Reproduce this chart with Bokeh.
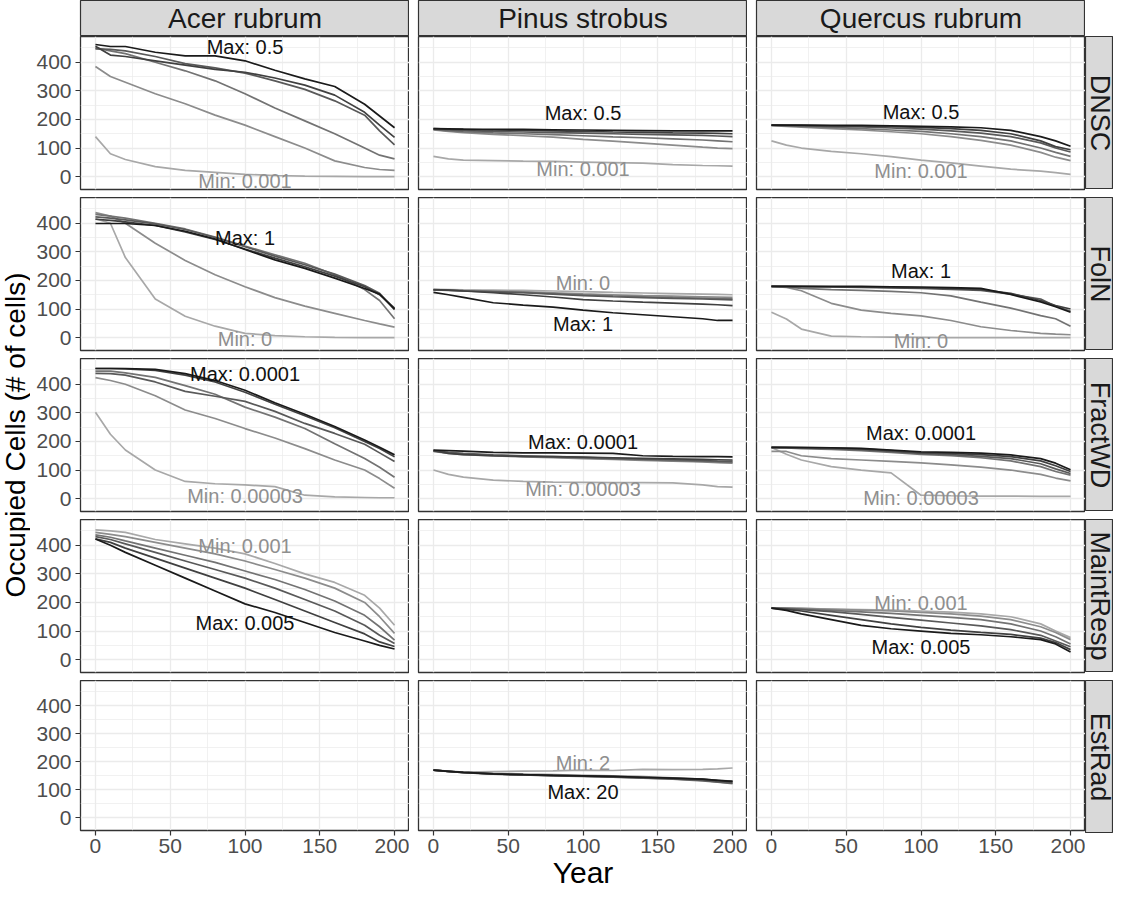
from math import pi
from bokeh.plotting import figure
from bokeh.models import Range1d, FixedTicker, LinearAxis
from bokeh.layouts import row, column
from bokeh.embed import file_html
from bokeh.resources import INLINE
from bokeh.core.properties import value

# ---------------- data ----------------
YEARS = [0, 10, 20, 40, 60, 80, 100, 120, 140, 160, 180, 190, 200]
SPECIES = ["Acer rubrum", "Pinus strobus", "Quercus rubrum"]
PARAMS = ["DNSC", "FolN", "FractWD", "MaintResp", "EstRad"]
X_TICKS = [0, 50, 100, 150, 200]
X_MINOR = [25, 75, 125, 175]
Y_TICKS = [0, 100, 200, 300, 400]
Y_MINOR = [50, 150, 250, 350, 450]
LABEL_YEAR = 100

# each list: series ordered from Max (darkest) to Min (lightest)
ACER_DNSC = [
    [462, 455, 455, 435, 422, 422, 405, 372, 342, 315, 253, 212, 171],
    [456, 425, 420, 405, 390, 375, 365, 345, 320, 285, 225, 180, 137],
    [447, 445, 440, 420, 395, 380, 362, 335, 305, 265, 215, 160, 111],
    [450, 440, 430, 400, 370, 335, 290, 240, 195, 150, 100, 75, 62],
    [385, 350, 330, 290, 255, 215, 180, 140, 100, 55, 32, 25, 22],
    [140, 80, 60, 35, 22, 15, 8, 4, 2, 1, 0, 0, 0],
]
PINUS_DNSC = [
    [168, 167, 166, 165, 165, 164, 163, 162, 161, 160, 160, 160, 160],
    [168, 166, 165, 163, 162, 160, 158, 156, 155, 153, 152, 151, 150],
    [166, 163, 161, 158, 156, 154, 152, 150, 148, 146, 144, 142, 140],
    [165, 160, 157, 153, 150, 147, 143, 139, 136, 132, 128, 125, 122],
    [163, 158, 154, 148, 143, 138, 130, 124, 117, 110, 103, 100, 98],
    [71, 62, 58, 56, 54, 53, 51, 49, 47, 42, 39, 38, 37],
]
QUERCUS_DNSC = [
    [180, 180, 180, 179, 179, 178, 176, 174, 171, 162, 140, 125, 106],
    [180, 179, 179, 178, 177, 175, 172, 168, 162, 150, 125, 105, 94],
    [180, 179, 178, 176, 174, 170, 166, 160, 152, 140, 118, 100, 86],
    [179, 178, 176, 172, 168, 163, 158, 150, 140, 125, 100, 85, 71],
    [178, 176, 173, 168, 163, 157, 150, 140, 127, 110, 85, 68, 56],
    [125, 110, 100, 88, 80, 70, 58, 48, 37, 26, 19, 14, 8],
]
ACER_FOLN = [
    [399, 399, 399, 392, 372, 345, 308, 272, 242, 208, 172, 152, 100],
    [414, 410, 405, 392, 370, 343, 310, 278, 248, 215, 178, 150, 103],
    [422, 418, 412, 398, 378, 350, 318, 285, 255, 222, 182, 155, 98],
    [431, 425, 418, 400, 380, 352, 320, 290, 260, 220, 168, 130, 66],
    [437, 425, 400, 330, 270, 220, 178, 140, 110, 85, 60, 48, 37],
    [416, 400, 280, 135, 75, 40, 15, 7, 3, 1, 0, 0, 0],
]
PINUS_FOLN = [
    [158, 150, 141, 122, 114, 107, 96, 87, 80, 73, 66, 60, 60],
    [168, 166, 163, 157, 150, 142, 133, 128, 124, 121, 117, 115, 112],
    [167, 165, 163, 160, 157, 152, 147, 143, 140, 137, 135, 134, 132],
    [167, 166, 164, 161, 158, 154, 150, 146, 143, 140, 138, 137, 136],
    [168, 167, 165, 163, 160, 157, 153, 150, 147, 145, 143, 142, 141],
    [168, 168, 167, 166, 165, 163, 161, 158, 156, 154, 152, 151, 150],
]
QUERCUS_FOLN = [
    [179, 179, 179, 179, 179, 178, 177, 175, 172, 151, 125, 108, 89],
    [179, 179, 179, 178, 177, 176, 174, 172, 168, 155, 130, 112, 100],
    [179, 179, 178, 177, 176, 174, 172, 169, 165, 152, 135, 110, 92],
    [179, 177, 172, 168, 165, 162, 157, 146, 124, 103, 77, 66, 40],
    [179, 176, 164, 120, 96, 85, 76, 60, 38, 25, 15, 12, 10],
    [89, 65, 30, 5, 3, 2, 1, 0, 0, 0, 0, 0, 0],
]
ACER_FRACTWD = [
    [455, 455, 455, 452, 437, 413, 379, 335, 295, 252, 205, 180, 153],
    [455, 455, 454, 448, 432, 408, 372, 330, 290, 248, 200, 175, 146],
    [438, 437, 432, 408, 375, 358, 340, 305, 263, 228, 190, 160, 130],
    [446, 446, 440, 424, 395, 365, 320, 285, 245, 192, 140, 110, 75],
    [423, 413, 400, 360, 310, 280, 245, 212, 175, 135, 100, 70, 36],
    [302, 225, 170, 100, 60, 52, 48, 42, 12, 6, 4, 3, 3],
]
PINUS_FRACTWD = [
    [170, 168, 166, 162, 160, 160, 159, 158, 150, 148, 147, 147, 146],
    [168, 158, 154, 150, 148, 147, 145, 143, 141, 139, 137, 136, 135],
    [168, 162, 158, 153, 150, 147, 144, 141, 138, 136, 133, 131, 130],
    [166, 160, 156, 151, 148, 145, 142, 139, 136, 133, 130, 128, 127],
    [165, 158, 154, 149, 146, 143, 140, 137, 134, 131, 128, 126, 124],
    [100, 85, 75, 65, 60, 58, 57, 56, 56, 55, 48, 42, 40],
]
QUERCUS_FRACTWD = [
    [179, 179, 179, 178, 176, 170, 164, 162, 159, 153, 140, 124, 101],
    [179, 179, 178, 177, 174, 168, 161, 158, 154, 147, 132, 115, 95],
    [179, 178, 177, 175, 171, 165, 158, 154, 148, 140, 122, 104, 88],
    [178, 177, 175, 172, 168, 162, 155, 150, 143, 132, 112, 95, 82],
    [165, 165, 150, 140, 135, 130, 125, 118, 110, 100, 85, 72, 62],
    [179, 155, 135, 112, 100, 90, 12, 10, 9, 9, 8, 8, 8],
]
ACER_MAINTRESP = [
    [422, 400, 375, 330, 285, 240, 195, 165, 130, 95, 65, 50, 37],
    [422, 410, 390, 355, 320, 285, 250, 210, 170, 130, 90, 62, 46],
    [430, 420, 405, 375, 345, 315, 285, 250, 210, 170, 120, 85, 56],
    [436, 428, 415, 390, 365, 340, 310, 280, 245, 205, 155, 115, 68],
    [445, 438, 430, 410, 390, 370, 345, 315, 285, 250, 200, 150, 92],
    [454, 450, 445, 420, 405, 390, 370, 336, 300, 270, 225, 180, 120],
]
QUERCUS_MAINTRESP = [
    [180, 172, 160, 140, 120, 108, 100, 92, 87, 80, 70, 55, 27],
    [180, 176, 170, 155, 140, 125, 113, 103, 95, 88, 75, 60, 35],
    [180, 178, 175, 168, 158, 148, 138, 128, 118, 105, 85, 65, 45],
    [180, 179, 177, 172, 167, 162, 155, 148, 140, 125, 100, 80, 55],
    [180, 180, 179, 176, 173, 170, 165, 160, 152, 140, 115, 95, 70],
    [180, 180, 179, 177, 175, 173, 170, 166, 160, 150, 125, 100, 77],
]
PINUS_ESTRAD = [
    [170, 166, 162, 157, 154, 152, 150, 148, 145, 142, 138, 134, 130],
    [170, 166, 162, 157, 154, 151, 149, 147, 144, 141, 137, 133, 129],
    [170, 166, 161, 156, 153, 150, 148, 145, 142, 139, 134, 128, 124],
    [170, 166, 161, 157, 154, 152, 149, 146, 143, 138, 132, 127, 122],
    [170, 167, 163, 159, 156, 154, 152, 150, 147, 143, 138, 134, 131],
    [170, 165, 163, 165, 167, 168, 170, 169, 173, 172, 173, 175, 178],
]

# (max text, max label y, min text, min label y)
LABELS = {
    ("Acer rubrum", "DNSC"): ("Max: 0.5", 455, "Min: 0.001", -16),
    ("Pinus strobus", "DNSC"): ("Max: 0.5", 221, "Min: 0.001", 28),
    ("Quercus rubrum", "DNSC"): ("Max: 0.5", 226, "Min: 0.001", 20),
    ("Acer rubrum", "FolN"): ("Max: 1", 348, "Min: 0", -5),
    ("Pinus strobus", "FolN"): ("Max: 1", 46, "Min: 0", 192),
    ("Quercus rubrum", "FolN"): ("Max: 1", 233, "Min: 0", -12),
    ("Acer rubrum", "FractWD"): ("Max: 0.0001", 437, "Min: 0.00003", 9),
    ("Pinus strobus", "FractWD"): ("Max: 0.0001", 199, "Min: 0.00003", 34),
    ("Quercus rubrum", "FractWD"): ("Max: 0.0001", 230, "Min: 0.00003", 1),
    ("Acer rubrum", "MaintResp"): ("Max: 0.005", 129, "Min: 0.001", 397),
    ("Quercus rubrum", "MaintResp"): ("Max: 0.005", 45, "Min: 0.001", 198),
    ("Pinus strobus", "EstRad"): ("Max: 20", 94, "Min: 2", 194),
}

SERIES = {
    ("Acer rubrum", "DNSC"): ACER_DNSC,
    ("Pinus strobus", "DNSC"): PINUS_DNSC,
    ("Quercus rubrum", "DNSC"): QUERCUS_DNSC,
    ("Acer rubrum", "FolN"): ACER_FOLN,
    ("Pinus strobus", "FolN"): PINUS_FOLN,
    ("Quercus rubrum", "FolN"): QUERCUS_FOLN,
    ("Acer rubrum", "FractWD"): ACER_FRACTWD,
    ("Pinus strobus", "FractWD"): PINUS_FRACTWD,
    ("Quercus rubrum", "FractWD"): QUERCUS_FRACTWD,
    ("Acer rubrum", "MaintResp"): ACER_MAINTRESP,
    ("Quercus rubrum", "MaintResp"): QUERCUS_MAINTRESP,
    ("Pinus strobus", "EstRad"): PINUS_ESTRAD,
}

# ---------------- style ----------------
FONT = "Liberation Sans"
LINE_COLORS = ["#1a1a1a", "#404040", "#595959", "#737373", "#8c8c8c", "#a8a8a8"]
MAX_COLOR = "#111111"
MIN_COLOR = "#8f8f8f"
BORDER = "#333333"
GRID = "#ebebeb"

FW, FH = 329, 153
HGAP, VGAP = 9, 8
AXW = 50
TITLE_W = 30
STRIP_H, STRIP_W = 36, 28
BOTTOM = 58


def base_fig(w, h, ml=0, mr=0, mt=0, mb=0, xr=(0, 1), yr=(0, 1)):
    p = figure(width=w, height=h, x_range=Range1d(*xr), y_range=Range1d(*yr),
               x_axis_location=None, y_axis_location=None, toolbar_location=None,
               output_backend="svg", min_border_left=ml, min_border_right=mr,
               min_border_top=mt, min_border_bottom=mb)
    p.background_fill_color = "white"
    p.border_fill_color = "white"
    p.outline_line_color = None
    return p


def strip(text, w, h, vertical, ml=0, size="28px"):
    s = base_fig(w, h, ml=ml)
    s.grid.visible = False
    s.background_fill_color = "#d9d9d9"
    s.outline_line_color = BORDER
    s.outline_line_width = 1.2
    s.text(x=[0.5], y=[0.5], text=[text], angle=-pi / 2 if vertical else 0,
           text_align="center", text_baseline="middle",
           text_font=value(FONT), text_font_size=size, text_color="#1a1a1a")
    return s


def panel(ci, ri):
    sp, pr = SPECIES[ci], PARAMS[ri]
    ml = AXW if ci == 0 else HGAP
    last = ri == len(PARAMS) - 1
    mb = BOTTOM if last else VGAP
    p = base_fig(ml + FW, FH + mb, ml=ml, mb=mb, xr=(-10, 210), yr=(-45, 490))
    p.outline_line_color = BORDER
    p.outline_line_width = 1.3
    p.xgrid.ticker = FixedTicker(ticks=X_TICKS, minor_ticks=X_MINOR)
    p.ygrid.ticker = FixedTicker(ticks=Y_TICKS, minor_ticks=Y_MINOR)
    for g in (p.xgrid, p.ygrid):
        g.grid_line_color = GRID
        g.grid_line_width = 1.3
        g.minor_grid_line_color = GRID
        g.minor_grid_line_width = 0.7

    def style_axis(ax):
        ax.axis_line_color = None
        ax.major_tick_line_color = BORDER
        ax.major_tick_line_width = 1.2
        ax.major_tick_out = 5
        ax.major_tick_in = 0
        ax.minor_tick_line_color = None
        ax.major_label_text_font = FONT
        ax.major_label_text_font_size = "21px"
        ax.major_label_text_color = "#4d4d4d"

    if ci == 0:
        yax = LinearAxis(ticker=FixedTicker(ticks=Y_TICKS))
        style_axis(yax)
        yax.major_label_standoff = 4
        p.add_layout(yax, "left")
    if last:
        xax = LinearAxis(ticker=FixedTicker(ticks=X_TICKS))
        style_axis(xax)
        xax.major_label_standoff = 3
        if ci == 1:
            xax.axis_label = "Year"
            xax.axis_label_text_font = FONT
            xax.axis_label_text_font_size = "30px"
            xax.axis_label_text_font_style = "normal"
            xax.axis_label_text_color = "#000000"
            xax.axis_label_standoff = 0
        p.add_layout(xax, "below")

    series = SERIES.get((sp, pr))
    if series is not None:
        n = len(series)
        for k in range(n - 1, -1, -1):
            p.line(YEARS, series[k], line_color=LINE_COLORS[k], line_width=1.7)
        mx_t, mx_y, mn_t, mn_y = LABELS[(sp, pr)]
        p.text(x=[LABEL_YEAR], y=[mx_y], text=[mx_t], text_align="center",
               text_baseline="middle", text_font=value(FONT), text_font_size="20px",
               text_color=MAX_COLOR)
        p.text(x=[LABEL_YEAR], y=[mn_y], text=[mn_t], text_align="center",
               text_baseline="middle", text_font=value(FONT), text_font_size="20px",
               text_color=MIN_COLOR)
    return p


# top strip row
top = [strip(SPECIES[0], AXW + FW, STRIP_H, False, ml=AXW),
       strip(SPECIES[1], HGAP + FW, STRIP_H, False, ml=HGAP),
       strip(SPECIES[2], HGAP + FW, STRIP_H, False, ml=HGAP)]
rows = [row(*top)]
for ri, pr in enumerate(PARAMS):
    figs = [panel(ci, ri) for ci in range(3)]
    rs = strip(pr, STRIP_W, FH, True, size="27px")
    rows.append(row(*figs, column(rs)))

grid = column(*rows)
total_h = STRIP_H + 4 * (FH + VGAP) + FH + BOTTOM

ttl = base_fig(TITLE_W, total_h, yr=(0, total_h))
ttl.grid.visible = False
panel_center_from_top = STRIP_H + (5 * FH + 4 * VGAP) / 2
ttl.text(x=[0.5], y=[total_h - panel_center_from_top], text=["Occupied Cells (# of cells)"],
         angle=pi / 2, text_align="center", text_baseline="middle",
         text_font=value(FONT), text_font_size="28px", text_color="#000000")

layout = row(ttl, grid)

open("out.html", "w").write(file_html(layout, INLINE))
